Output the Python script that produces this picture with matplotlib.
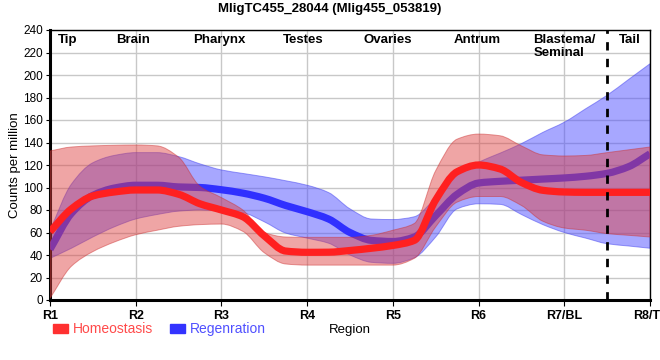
import numpy as np
import matplotlib
matplotlib.use("Agg")
import matplotlib.pyplot as plt
from matplotlib.patches import Patch, PathPatch
from matplotlib.path import Path

plt.rcParams['font.family'] = ['Liberation Sans', 'DejaVu Sans']

# positions along the body (R1 = 0 ... R8/TL = 7), read every quarter step
pos = np.arange(0, 7.01, 0.25)
region_ticks = ['R1', 'R2', 'R3', 'R4', 'R5', 'R6', 'R7/BL', 'R8/TL']

# Homeostasis (mean, upper, lower)
homeo_mean = [60.7, 81, 92.5, 96, 97.8, 97.8, 94, 85.5, 80, 74, 57, 43.5, 42.4,
              42.5, 44, 46, 48.5, 53, 89, 114, 120, 116.5, 104.5, 97.5, 96,
              95.7, 95.7, 95.7, 95.7]
homeo_up = [132.5, 136, 137, 137.5, 137.8, 137, 127, 101, 91, 80, 60, 56, 55.7,
            55.7, 55.7, 57.5, 62, 68, 115, 143, 147.5, 146, 137, 129, 128,
            128.5, 131, 133.5, 136]
homeo_lo = [1.5, 30, 43, 51.5, 58, 62, 65.5, 67, 67.5, 61, 42, 32, 31,
            31, 31, 31, 31, 37, 65, 87, 92, 92, 84, 70, 64,
            62, 59, 57.5, 56]

# Regeneration (mean, upper, lower)
regen_mean = [45, 77, 93, 99.5, 102, 102, 100.5, 100, 98, 95, 90.5, 84, 78.5,
              72, 60, 53, 52, 56, 75, 94, 104, 105.5, 106.5, 107.5, 108.5,
              110, 112.6, 118.5, 130]
regen_up = [62, 103, 122, 128.5, 131, 131, 127.5, 121, 115.6, 112.5, 109.5, 106, 102,
            95.5, 81, 72, 71.5, 74, 91, 112, 122.5, 130.5, 139, 149, 158,
            170, 182, 196, 210]
regen_lo = [37, 46, 56, 65, 72, 76, 79, 80, 79, 77.5, 69.5, 59.5, 55,
            50.5, 40, 33.5, 32.6, 37.5, 56, 81, 85.5, 85, 76, 67, 60,
            55, 50, 48, 46]

tissues = ['Tip', 'Brain', 'Pharynx', 'Testes', 'Ovaries', 'Antrum', 'Blastema/\nSeminal', 'Tail']
tissue_x = [0.21, 0.97, 1.98, 2.95, 3.94, 4.98, 5.64, 6.76]
tissue_ha = ['center'] * 6 + ['left', 'center']


def smooth_verts(x, y):
    # monotone cubic (Fritsch-Carlson) drawn as bezier segments through the points
    x = np.asarray(x, float)
    y = np.asarray(y, float)
    h = np.diff(x)
    d = np.diff(y) / h
    m = np.zeros_like(y)
    m[0], m[-1] = d[0], d[-1]
    for i in range(1, len(y) - 1):
        if d[i - 1] * d[i] <= 0:
            m[i] = 0
        else:
            w1 = 2 * h[i] + h[i - 1]
            w2 = h[i] + 2 * h[i - 1]
            m[i] = (w1 + w2) / (w1 / d[i - 1] + w2 / d[i])
    verts = [(x[0], y[0])]
    for i in range(len(x) - 1):
        verts.append((x[i] + h[i] / 3, y[i] + m[i] * h[i] / 3))
        verts.append((x[i + 1] - h[i] / 3, y[i + 1] - m[i + 1] * h[i] / 3))
        verts.append((x[i + 1], y[i + 1]))
    return verts


def smooth_line(ax, x, y, **kw):
    v = smooth_verts(x, y)
    codes = [Path.MOVETO] + [Path.CURVE4] * (len(v) - 1)
    ax.add_patch(PathPatch(Path(v, codes), fill=False, **kw))


def smooth_band(ax, x, lo, up, **kw):
    vu = smooth_verts(x, up)
    vl = smooth_verts(x[::-1], lo[::-1])
    verts = vu + [vl[0]] + vl[1:] + [vu[0]]
    codes = ([Path.MOVETO] + [Path.CURVE4] * (len(vu) - 1) + [Path.LINETO]
             + [Path.CURVE4] * (len(vl) - 1) + [Path.CLOSEPOLY])
    ax.add_patch(PathPatch(Path(verts, codes), **kw))


fig = plt.figure(figsize=(6.6, 3.6), dpi=100)
ax = fig.add_axes([50 / 660, 60 / 360, 600 / 660, 270 / 360])

smooth_band(ax, pos, regen_lo, regen_up, facecolor='#5050ff', alpha=0.5,
            edgecolor='#4040ee', linewidth=0.7, zorder=2)
smooth_line(ax, pos, regen_mean, edgecolor='#3030ff', lw=5.2, capstyle='butt', zorder=3)
smooth_band(ax, pos, homeo_lo, homeo_up, facecolor='#dd4040', alpha=0.47,
            edgecolor='#cc3030', linewidth=0.7, zorder=4)
smooth_line(ax, pos, homeo_mean, edgecolor='#ff2020', lw=5.2, capstyle='butt', zorder=5)

ax.axvline(6.5, color='black', ls=(0, (3, 3)), lw=2, zorder=6)

ax.set_xlim(0, 7)
ax.set_ylim(0, 240)
ax.set_xticks(range(8))
ax.set_xticklabels(region_ticks, fontweight='bold', fontsize=9)
ax.set_yticks(range(0, 241, 20))
ax.tick_params(axis='y', labelsize=8.5, length=3, pad=2)
ax.tick_params(axis='x', length=4, pad=3)
ax.grid(True, color='#c8c8c8', lw=1)
ax.set_axisbelow(True)

for side in ['left', 'bottom']:
    ax.spines[side].set_linewidth(2.2)
for side in ['top', 'right']:
    ax.spines[side].set_linewidth(1)

for t, xv, ha in zip(tissues, tissue_x, tissue_ha):
    ax.text(xv, 0.985, t, transform=ax.get_xaxis_transform(), ha=ha, va='top',
            fontsize=9.5, fontweight='bold', linespacing=1.05, zorder=7)

fig.text(0.5, 0.976, 'MligTC455_28044 (Mlig455_053819)', ha='center', va='center',
         fontsize=9.5, fontweight='bold')
fig.text(0.022, 0.54, 'Counts per million', rotation=90, ha='center', va='center', fontsize=9.5)
fig.text(350 / 660, 0.083, 'Region', ha='center', va='center', fontsize=9.5)

handles = [Patch(color='#ff3030'), Patch(color='#3333ff')]
fig.legend(handles, ['Homeostasis', 'Regenration'], loc='center left',
           bbox_to_anchor=(0.061, 0.085), ncol=2, frameon=False,
           labelcolor=['#ff4a4a', '#5050ff'], fontsize=10,
           handlelength=1.1, handleheight=0.6, handletextpad=0.35, columnspacing=1.2)

fig.savefig('out.png', dpi=100)
